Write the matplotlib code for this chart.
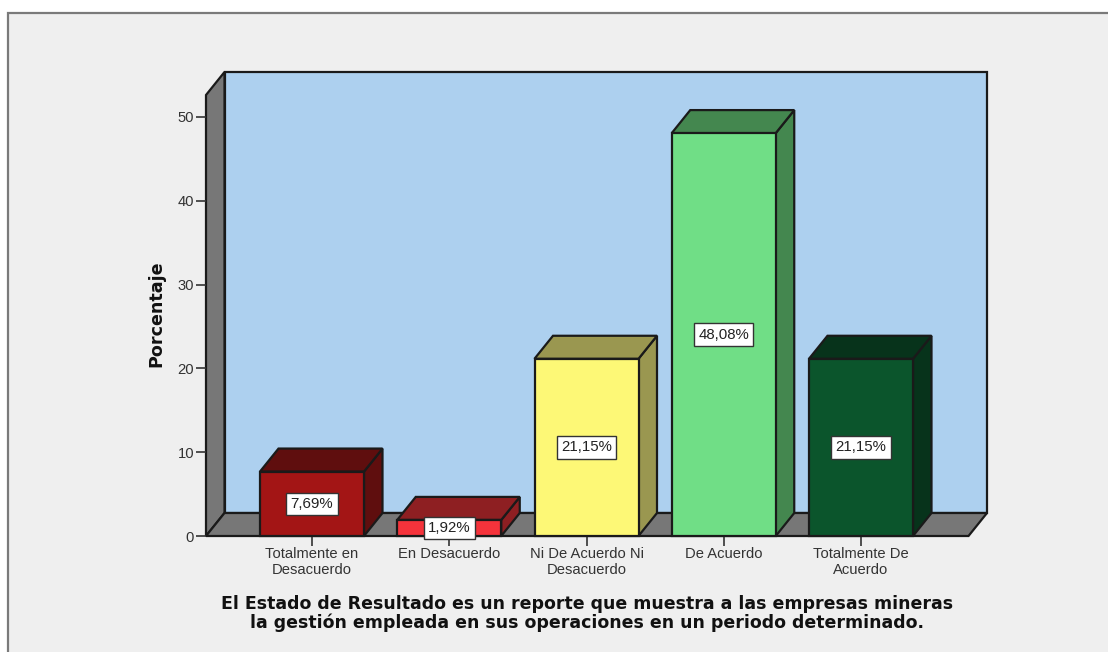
import matplotlib
matplotlib.use("Agg")
import matplotlib.pyplot as plt
from matplotlib.patches import Polygon, Rectangle

categories = ["Totalmente en\nDesacuerdo", "En Desacuerdo", "Ni De Acuerdo Ni\nDesacuerdo", "De Acuerdo", "Totalmente De\nAcuerdo"]
values = [7.69, 1.92, 21.15, 48.08, 21.15]
labels = ["7,69%", "1,92%", "21,15%", "48,08%", "21,15%"]
front_colors = ["#A31515", "#F5333B", "#FDF876", "#70DE86", "#0B552C"]
top_colors = ["#5F0E0E", "#8E1F22", "#9A9750", "#44874F", "#07331B"]
side_colors = ["#5F0E0E", "#8E1F22", "#9A9750", "#44874F", "#07331B"]
yticks = [0, 10, 20, 30, 40, 50]
ylabel = "Porcentaje"
title = ("El Estado de Resultado es un reporte que muestra a las empresas mineras\n"
         "la gestión empleada en sus operaciones en un periodo determinado.")

W, H = 1108, 652
fig = plt.figure(figsize=(W / 100, H / 100), dpi=100, facecolor="white")
fig.add_artist(Rectangle((8 / W, -0.01), 1.01, 1.01 - 12.5 / H, transform=fig.transFigure,
                         facecolor="#EFEFEF", edgecolor="#7A7A7A", linewidth=1.6, zorder=-5))

# axes span: front-left floor corner to back-right top corner
left, right, bottom, top = 206, 987, 536, 72
ax = fig.add_axes([left / W, 1 - bottom / H, (right - left) / W, (bottom - top) / H])
ax.patch.set_alpha(0)
unit_x, unit_y = 137.25, 8.38
ax.set_xlim((left - 312) / unit_x, (right - 312) / unit_x)
ax.set_ylim(0, (bottom - top) / unit_y)
dx, dy = 18.5 / unit_x, 23 / unit_y
x_min, x_max = ax.get_xlim()
y_max = ax.get_ylim()[1]
x_front_right = x_max - dx
y_front_top = y_max - dy

edge = dict(edgecolor="#1A1A1A", linewidth=1.6, joinstyle="miter", clip_on=False)
ax.add_patch(Polygon([(x_min + dx, dy), (x_max, dy), (x_max, y_max), (x_min + dx, y_max)],
                     facecolor="#ADD0EF", zorder=1, **edge))
ax.add_patch(Polygon([(x_min, 0), (x_min + dx, dy), (x_min + dx, y_max), (x_min, y_front_top)],
                     facecolor="#777777", zorder=1, **edge))
ax.add_patch(Polygon([(x_min, 0), (x_front_right, 0), (x_max, dy), (x_min + dx, dy)],
                     facecolor="#777777", zorder=1, **edge))

width = 104 / unit_x
for i, v in enumerate(values):
    l, r = i - width / 2, i + width / 2
    ax.add_patch(Polygon([(r, 0), (r + dx, dy), (r + dx, v + dy), (r, v)],
                         facecolor=side_colors[i], zorder=2 + i, **edge))
    ax.add_patch(Polygon([(l, v), (r, v), (r + dx, v + dy), (l + dx, v + dy)],
                         facecolor=top_colors[i], zorder=2 + i, **edge))
    ax.bar(i, v, width=width, color=front_colors[i], zorder=2 + i, **edge)
    ax.text(i, v / 2, labels[i], ha="center", va="center", fontsize=10.8, family="Liberation Sans",
            color="#222222", zorder=20, clip_on=False,
            bbox=dict(boxstyle="square,pad=0.28", facecolor="white", edgecolor="#333333", linewidth=1))

for s in ax.spines.values():
    s.set_visible(False)
ax.set_xticks(range(len(categories)), categories, fontsize=10.6, family="Liberation Sans",
              linespacing=1.2, color="#333333")
ax.set_yticks(yticks, [str(t) for t in yticks], fontsize=10.6, family="Liberation Sans", color="#333333")
ax.tick_params(axis="x", length=7, width=1.2, color="#333333", pad=1)
ax.tick_params(axis="y", length=7.5, width=1.2, color="#333333", pad=1)

fig.text(156 / W, 1 - 313.5 / H, ylabel, rotation=90, ha="center", va="center",
         fontsize=12.6, fontweight="bold", family="DejaVu Sans", color="#111111")
fig.text(587 / W, 1 - 613.5 / H, title, ha="center", va="center", fontsize=12.55, fontweight="bold",
         family="DejaVu Sans", linespacing=1.02, color="#111111")
fig.savefig("out.png", dpi=100, facecolor="white")
